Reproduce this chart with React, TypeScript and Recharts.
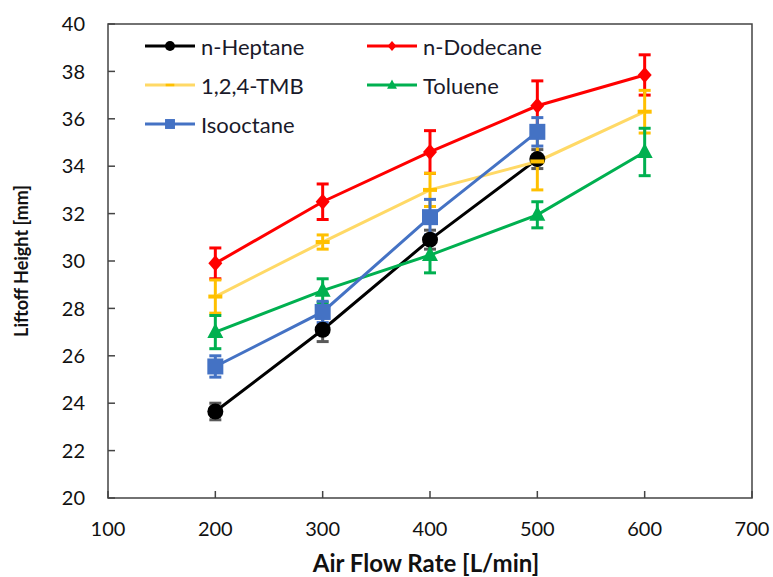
import React from "react";
import {
  LineChart, Line, XAxis, YAxis, ErrorBar, ReferenceArea, Legend,
} from "recharts";

// ── Data ──────────────────────────────────────────────────────────────────────

const airFlow = [200, 300, 400, 500, 600];
const yTicks = [20, 22, 24, 26, 28, 30, 32, 34, 36, 38, 40];
const xTicks = [100, 200, 300, 400, 500, 600, 700];

const heptane = [23.65, 27.1, 30.9, 34.3];
const heptaneErr = [0.35, 0.5, 0.4, 0.4];
const dodecane = [29.9, 32.5, 34.6, 36.55, 37.85];
const dodecaneErr = [0.65, 0.75, 0.9, 1.05, 0.85];
const tmb = [28.5, 30.8, 33.0, 34.2, 36.3];
const tmbErr = [0.7, 0.3, 0.7, 1.2, 0.9];
const toluene = [27.0, 28.75, 30.25, 31.95, 34.6];
const tolueneErr = [0.7, 0.5, 0.75, 0.55, 1.0];
const isooctane = [25.55, 27.85, 31.85, 35.45];
const isooctaneErr = [0.45, 0.45, 0.75, 0.6];

const toRows = (vals: number[], errs: number[]) =>
  vals.map((v, i) => ({ x: airFlow[i], y: v, err: errs[i] }));

const FONT = "Lato, 'Open Sans', sans-serif";

// ── Markers ───────────────────────────────────────────────────────────────────

type Shape = "circle" | "diamond" | "dash" | "triangle" | "square";

function Marker({ shape, cx, cy, color, k = 1 }: { shape: Shape; cx: number; cy: number; color: string; k?: number }) {
  switch (shape) {
    case "circle":
      return <circle cx={cx} cy={cy} r={8 * k} fill={color} />;
    case "diamond":
      return <polygon points={`${cx},${cy - 8 * k} ${cx + 7 * k},${cy} ${cx},${cy + 8 * k} ${cx - 7 * k},${cy}`} fill={color} />;
    case "dash":
      return <rect x={cx - 7 * k} y={cy - 2 * k} width={14 * k} height={4 * k} fill={color} />;
    case "triangle":
      return <polygon points={`${cx},${cy - 9 * k} ${cx + 8 * k},${cy + 6 * k} ${cx - 8 * k},${cy + 6 * k}`} fill={color} />;
    default:
      return <rect x={cx - 8 * k} y={cy - 8 * k} width={16 * k} height={16 * k} fill={color} />;
  }
}

const series = [
  { name: "n-Heptane", rows: toRows(heptane, heptaneErr), line: "#000000", mark: "#000000", err: "#595959", shape: "circle" as Shape },
  { name: "n-Dodecane", rows: toRows(dodecane, dodecaneErr), line: "#FF0000", mark: "#FF0000", err: "#FF0000", shape: "diamond" as Shape },
  { name: "1,2,4-TMB", rows: toRows(tmb, tmbErr), line: "#FFD966", mark: "#FFC000", err: "#FFC000", shape: "dash" as Shape },
  { name: "Toluene", rows: toRows(toluene, tolueneErr), line: "#00B050", mark: "#00B050", err: "#00B050", shape: "triangle" as Shape },
  { name: "Isooctane", rows: toRows(isooctane, isooctaneErr), line: "#4472C4", mark: "#4472C4", err: "#4472C4", shape: "square" as Shape },
];

// ── Tick labels ───────────────────────────────────────────────────────────────

const XTick = (p: any) => (
  <text x={p.x} y={p.y} dy="0.72em" textAnchor="middle" fontSize={20} fontFamily={FONT} fill="#111">
    {p.payload.value}
  </text>
);

const YTick = (p: any) => (
  <text x={p.x} y={p.y} dy="0.36em" textAnchor="end" fontSize={20} fontFamily={FONT} fill="#111">
    {p.payload.value}
  </text>
);

// ── Legend (two columns, inside the plot) ─────────────────────────────────────

function renderLegend() {
  return (
    <div style={{ position: "relative", width: 360, height: 120, fontFamily: FONT }}>
      {series.map((s, i) => (
        <div
          key={s.name}
          style={{
            position: "absolute",
            left: (i % 2) * 222,
            top: Math.floor(i / 2) * 39,
            display: "flex",
            alignItems: "center",
            height: 20,
            whiteSpace: "nowrap",
          }}
        >
          <svg width={54} height={20}>
            <line x1={2} y1={10} x2={52} y2={10} stroke={s.line} strokeWidth={3} />
            <Marker shape={s.shape} cx={27} cy={10} color={s.mark} k={0.62} />
          </svg>
          <span style={{ fontSize: 22, color: "#1a1a2a", marginLeft: 4 }}>{s.name}</span>
        </div>
      ))}
    </div>
  );
}

// ── Chart ─────────────────────────────────────────────────────────────────────

export default function App() {
  return (
    <div style={{ position: "absolute", left: 0, top: 0, width: 773, height: 577, background: "#fff" }}>
      <LineChart width={773} height={577} margin={{ top: 24, right: 21, left: 0, bottom: 0 }}>
        <XAxis
          type="number"
          dataKey="x"
          domain={[100, 700]}
          ticks={xTicks}
          height={79}
          axisLine={false}
          tickSize={-7}
          tickMargin={31}
          tickLine={{ stroke: "#444", strokeWidth: 1.5 }}
          tick={XTick}
          label={{
            content: ({ viewBox }: any) => (
              <text
                x={viewBox.x + viewBox.width / 2 - 4}
                y={572}
                textAnchor="middle"
                fontSize={24}
                fontWeight="bold"
                fontFamily={FONT}
                fill="#111"
              >
                Air Flow Rate [L/min]
              </text>
            ),
          }}
        />
        <YAxis
          type="number"
          dataKey="y"
          domain={[20, 40]}
          ticks={yTicks}
          width={108}
          axisLine={false}
          tickSize={-7}
          tickMargin={30}
          tickLine={{ stroke: "#444", strokeWidth: 1.5 }}
          tick={YTick}
          label={{
            content: ({ viewBox }: any) => {
              const cy = viewBox.y + viewBox.height / 2;
              return (
                <text
                  x={28}
                  y={cy}
                  transform={`rotate(-90 28 ${cy})`}
                  textAnchor="middle"
                  fontSize={18}
                  fontWeight="bold"
                  fontFamily={FONT}
                  fill="#111"
                >
                  Liftoff Height [mm]
                </text>
              );
            },
          }}
        />
        <ReferenceArea
          x1={100}
          x2={700}
          y1={20}
          y2={40}
          fill="none"
          fillOpacity={0}
          stroke="#444"
          strokeWidth={1.5}
          ifOverflow="visible"
        />
        <Legend
          content={renderLegend}
          layout="horizontal"
          verticalAlign="middle"
          align="center"
          wrapperStyle={{ position: "absolute", left: 143, top: 36, width: 360 }}
        />
        {series.map((s) => (
          <Line
            key={s.name}
            name={s.name}
            data={s.rows}
            dataKey="y"
            stroke={s.line}
            strokeWidth={3}
            isAnimationActive={false}
            dot={(p: any) => (
              <Marker key={`${s.name}-${p.index}`} shape={s.shape} cx={p.cx} cy={p.cy} color={s.mark} />
            )}
            activeDot={false}
          >
            <ErrorBar dataKey="err" direction="y" width={6} strokeWidth={3} stroke={s.err} isAnimationActive={false} />
          </Line>
        ))}
      </LineChart>
    </div>
  );
}
